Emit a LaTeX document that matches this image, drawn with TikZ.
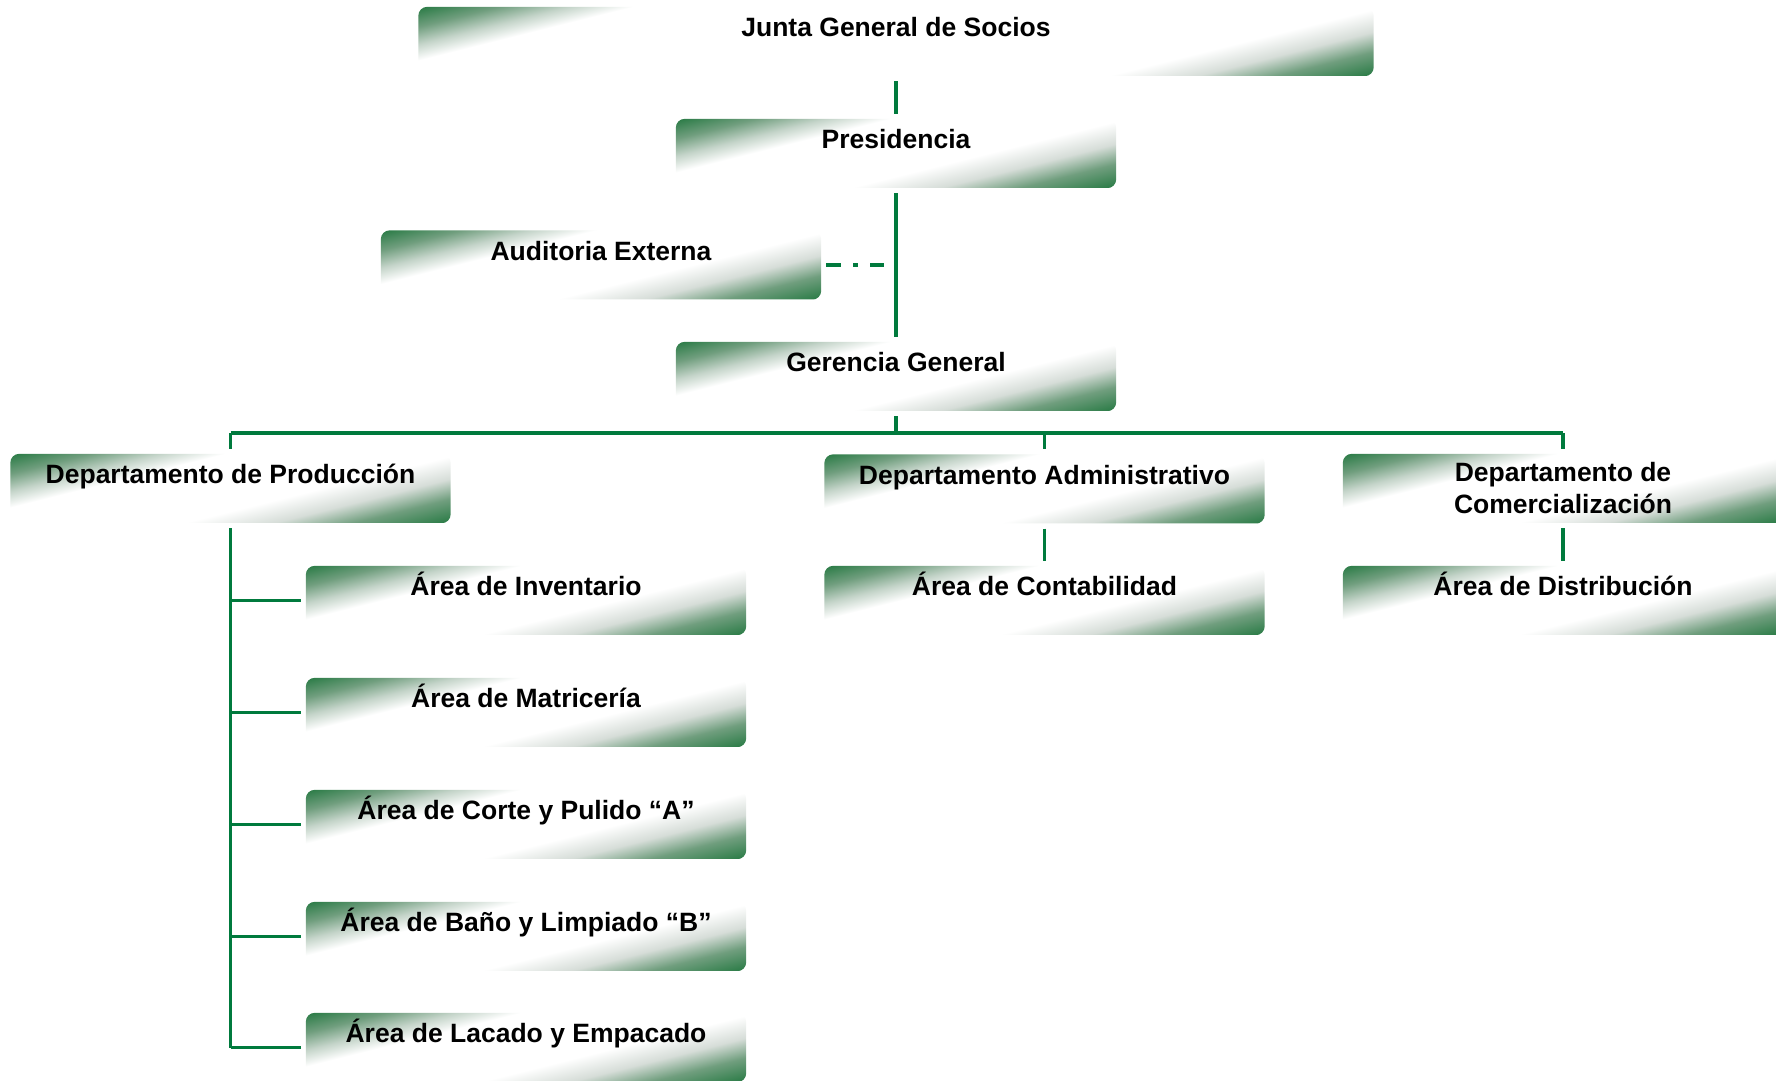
\documentclass[tikz,border=0pt]{standalone}
\usepackage{fontspec}
\setmainfont{Liberation Sans}
\definecolor{boxgreen}{RGB}{40,122,68}
\definecolor{darkmix}{RGB}{112,158,126}
\definecolor{lightmix}{RGB}{196,212,201}
\definecolor{lightgray}{RGB}{214,221,216}
\definecolor{linegreen}{RGB}{0,122,61}
% stops 25bp..75bp span the box from its top-left to its bottom-right corner
\pgfdeclarehorizontalshading{boxgrad}{100bp}{color(0bp)=(boxgreen); color(25bp)=(boxgreen);
  color(30.59bp)=(darkmix); color(35.47bp)=(lightmix); color(40.01bp)=(white);
  color(56.42bp)=(white); color(62.71bp)=(lightgray); color(68.3bp)=(darkmix);
  color(75bp)=(boxgreen); color(100bp)=(boxgreen)}
\pgfdeclarehorizontalshading{widegrad}{100bp}{color(0bp)=(boxgreen); color(25bp)=(boxgreen);
  color(28.25bp)=(darkmix); color(31.09bp)=(lightmix); color(33.73bp)=(white);
  color(64.2bp)=(white); color(67.85bp)=(lightgray); color(71.1bp)=(darkmix);
  color(75bp)=(boxgreen); color(100bp)=(boxgreen)}
\pgfdeclarelayer{background}
\pgfsetlayers{background,main}
% slanted gradient fill behind a box: #1 node, #2 gradient length, #3 shading
\newcommand\gradfill[3]{%
  \begin{scope}
    \clip[rounded corners=9pt] (#1.north west) rectangle (#1.south east);
    \begin{scope}[transform canvas={cm={1,0,4,1,(#1.north west)}}]
      \shade[shading=#3, x=1pt, y=1pt] (0,-69) rectangle (#2,0);
    \end{scope}
  \end{scope}}
\begin{document}
\begin{tikzpicture}[x=1pt,y=-1pt,
  orgbox/.style={minimum width=440pt, minimum height=69pt, inner sep=0pt,
    font=\fontsize{26.5}{32}\selectfont\bfseries, text height=20pt, text depth=30pt},
  twoline/.style={text height=, text depth=, align=center},
  conn/.style={draw=linegreen, line width=3.5pt},
  gap/.style={shorten <=5pt, shorten >=5pt}]
\useasboundingbox (0,0) rectangle (1776,1080);
\clip (0,0) rectangle (1776,1080);

% boxes
\node[orgbox, minimum width=955pt] (junta) at (896,41.5) {Junta General de Socios};
\node[orgbox] (pres) at (896,153.5) {Presidencia};
\node[orgbox] (aud) at (601,265) {Auditoria Externa};
\node[orgbox] (ger) at (896,376.5) {Gerencia General};
\node[orgbox] (prod) at (230.5,488.5) {Departamento de Producción};
\node[orgbox] (adm) at (1044.5,489) {Departamento Administrativo};
\node[orgbox, twoline] (com) at (1563,488.5) {Departamento de\\Comercialización};
\node[orgbox] (inv) at (526,600.5) {Área de Inventario};
\node[orgbox] (mat) at (526,712.5) {Área de Matricería};
\node[orgbox] (cor) at (526,824.5) {Área de Corte y Pulido “A”};
\node[orgbox] (ban) at (526,936.5) {Área de Baño y Limpiado “B”};
\node[orgbox] (lac) at (526,1047.5) {Área de Lacado y Empacado};
\node[orgbox] (cont) at (1044.5,600.5) {Área de Contabilidad};
\node[orgbox] (dist) at (1563,600.5) {Área de Distribución};

\begin{pgfonlayer}{background}
  \gradfill{junta}{1231}{widegrad}
  \foreach \n in {pres,aud,ger,prod,adm,com,inv,mat,cor,ban,lac,cont,dist}
    {\gradfill{\n}{716}{boxgrad}}
\end{pgfonlayer}

% connectors
\draw[conn, gap] (junta) -- (pres);
\draw[conn, gap] (pres) -- (ger);
\coordinate (audjoin) at (aud.east -| pres.south);
\draw[linegreen, line width=3.5pt, dash pattern=on 15pt off 12pt on 5pt off 12pt, shorten <=5pt]
  (aud.east) -- ([xshift=-12pt]audjoin);

\coordinate (bus) at (896,433);
\draw[conn, shorten <=5pt] (ger) -- (bus);
\draw[conn] (prod.north |- bus) -- (com.north |- bus);
\draw[conn, shorten >=5pt] (prod.north |- bus) -- (prod);
\draw[conn, shorten >=5pt] (adm.north |- bus) -- (adm);
\draw[conn, shorten >=5pt] (com.north |- bus) -- (com);

\draw[conn, gap] (adm) -- (cont);
\draw[conn, gap] (com) -- (dist);

\draw[conn, shorten <=5pt] (prod.south) -- (prod.south |- lac.west);
\foreach \b in {inv,mat,cor,ban,lac}
  \draw[conn, shorten >=5pt] (prod.south |- \b.west) -- (\b.west);
\end{tikzpicture}
\end{document}
